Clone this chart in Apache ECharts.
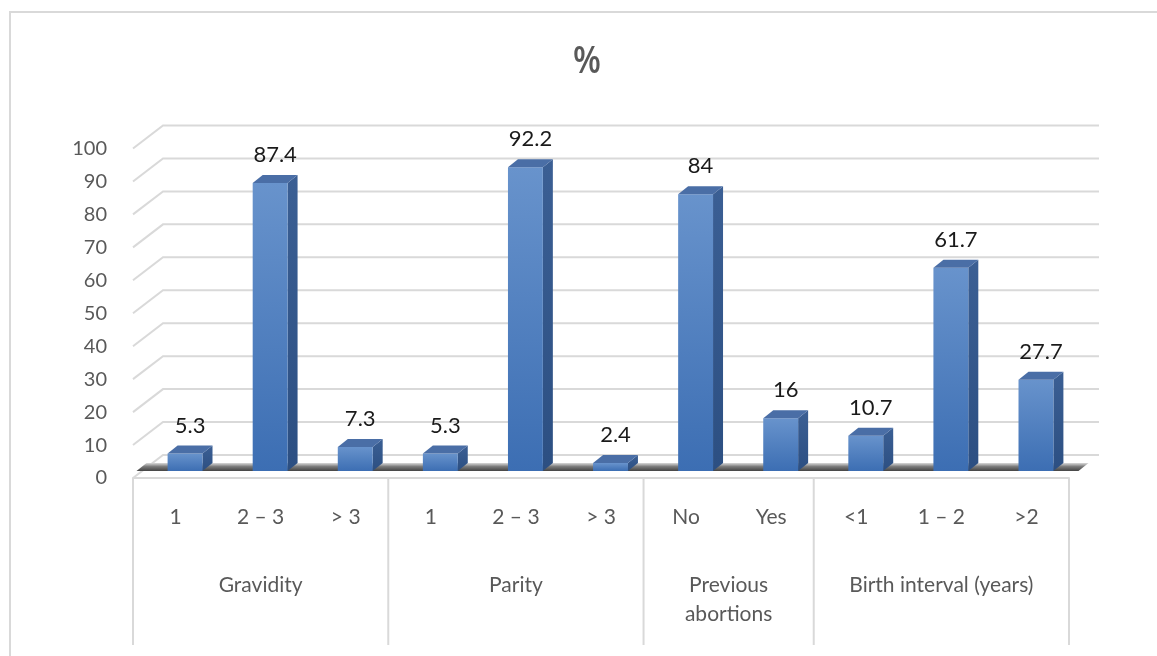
<!DOCTYPE html>
<html>
<head>
<meta charset="utf-8">
<script src="https://cdn.jsdelivr.net/npm/echarts@6/dist/echarts.min.js"></script>
<style>html,body{margin:0;padding:0;background:#fff;}#c{width:1157px;height:656px;}</style>
</head>
<body>
<div id="c"></div>
<script>
const categories = ['1', '2 – 3', '> 3', '1', '2 – 3', '> 3', 'No', 'Yes', '<1', '1 – 2', '>2'];
const values = [5.3, 87.4, 7.3, 5.3, 92.2, 2.4, 84, 16, 10.7, 61.7, 27.7];
const groupNames = ['Gravidity', 'Parity', 'Previous\nabortions', 'Birth interval (years)'];
const groupSizes = [3, 3, 2, 3];
const yTicks = [0, 10, 20, 30, 40, 50, 60, 70, 80, 90, 100];
const titleText = '%';

const FONT = 'Lato, "Open Sans", sans-serif';
const GRAY = '#595959';
const LINE = '#d9d9d9';
const FRONT_OFF = [9.5, -7];
const DEPTH = [10, -8];
const WALL = [30, -23];

const groupData = [];
let start = 0;
groupSizes.forEach((n, i) => { groupData.push([start, n, i]); start += n; });

const chart = echarts.init(document.getElementById('c'), null, {renderer: 'canvas'});
chart.setOption({
  animation: false,
  backgroundColor: '#fff',
  graphic: [
    {
      type: 'rect', shape: {x: 10, y: 12, width: 1300, height: 800},
      style: {fill: 'none', stroke: LINE, lineWidth: 2}, z: 0
    },
    {
      type: 'text', x: 587, y: 62, z: 5, scaleX: 0.85,
      style: {text: titleText, align: 'center', verticalAlign: 'middle',
        fontFamily: '"Open Sans", Lato, sans-serif', fontSize: 38, fontWeight: 600, fill: GRAY}
    }
  ],
  grid: {left: 133, right: 88, top: 148.5, height: 329.5},
  xAxis: {
    type: 'category', data: categories,
    axisLine: {show: true, lineStyle: {color: LINE, width: 2}},
    axisTick: {show: false},
    axisLabel: {margin: 29, fontSize: 21, fontFamily: FONT, color: GRAY, interval: 0},
    splitLine: {show: false}
  },
  yAxis: {
    type: 'value', min: 0, max: 100, interval: 10,
    axisLine: {show: false}, axisTick: {show: false}, splitLine: {show: false},
    axisLabel: {margin: 26, fontSize: 20, fontFamily: FONT, color: GRAY}
  },
  series: [
    {
      type: 'custom', name: 'grid3d', z: 1, silent: true,
      data: yTicks.map(v => [0, v]),
      encode: {x: 0, y: 1},
      renderItem: function (params, api) {
        const cs = params.coordSys;
        const y = api.coord([0, api.value(1)])[1];
        const x0 = cs.x, x1 = cs.x + cs.width;
        return {
          type: 'polyline',
          shape: {points: [[x0, y], [x0 + WALL[0], y + WALL[1]], [x1 + WALL[0], y + WALL[1]]]},
          style: {stroke: LINE, lineWidth: 2, fill: null}
        };
      }
    },
    {
      type: 'custom', name: 'shadow', z: 2, silent: true,
      data: [[0, 0]],
      encode: {x: 0, y: 1},
      renderItem: function (params, api) {
        const cs = params.coordSys;
        const y = api.coord([0, 0])[1] + FRONT_OFF[1];
        const xa = cs.x + FRONT_OFF[0] - 6, xb = cs.x + cs.width + FRONT_OFF[0];
        return {
          type: 'polygon',
          shape: {points: [[xa, y], [xa + DEPTH[0], y + DEPTH[1]], [xb + DEPTH[0], y + DEPTH[1]], [xb, y]]},
          style: {
            fill: new echarts.graphic.LinearGradient(0, 0, 0, 1, [
              {offset: 0, color: '#d9d9d9'},
              {offset: 0.45, color: '#7a7a7a'},
              {offset: 1, color: '#444444'}
            ])
          }
        };
      }
    },
    {
      type: 'custom', name: 'bars', z: 3,
      data: values.map((v, i) => [i, v]),
      encode: {x: 0, y: 1},
      renderItem: function (params, api) {
        const idx = api.value(0), val = api.value(1);
        const p0 = api.coord([idx, 0]);
        const p1 = api.coord([idx, val]);
        const bw = api.size([1, 0])[0] * 0.41;
        const cx = p0[0] + FRONT_OFF[0];
        const xL = cx - bw / 2, xR = cx + bw / 2;
        const yB = p0[1] + FRONT_OFF[1], yT = p1[1] + FRONT_OFF[1];
        const dx = DEPTH[0], dy = DEPTH[1];
        return {
          type: 'group',
          children: [
            {
              type: 'polygon',
              shape: {points: [[xR, yT], [xR + dx, yT + dy], [xR + dx, yB + dy], [xR, yB]]},
              style: {fill: new echarts.graphic.LinearGradient(0, 0, 0, 1, [
                {offset: 0, color: '#3b5f94'}, {offset: 1, color: '#2c4f82'}
              ])}
            },
            {
              type: 'rect',
              shape: {x: xL, y: yT, width: bw, height: yB - yT},
              style: {fill: new echarts.graphic.LinearGradient(0, 0, 0, 1, [
                {offset: 0, color: '#6893cc'}, {offset: 1, color: '#3c6eb3'}
              ])}
            },
            {
              type: 'polygon',
              shape: {points: [[xL, yT], [xL + dx, yT + dy], [xR + dx, yT + dy], [xR, yT]]},
              style: {fill: '#4a6ea6'}
            },
            {
              type: 'text',
              style: {
                text: String(val), x: cx + dx / 2, y: yT + dy - 9,
                align: 'center', verticalAlign: 'bottom',
                fontFamily: FONT, fontSize: 22, fill: '#1a1a1a'
              }
            }
          ]
        };
      }
    },
    {
      type: 'custom', name: 'groups', z: 3, silent: true,
      data: groupData,
      encode: {x: 0, y: 1},
      renderItem: function (params, api) {
        const s = api.value(0), n = api.value(1), gi = api.value(2);
        const band = api.size([1, 0])[0];
        const base = api.coord([s, 0]);
        const xs = base[0] - band / 2, xe = xs + n * band;
        const yTop = base[1];
        const children = [
          {type: 'line', shape: {x1: xs, y1: yTop, x2: xs, y2: 645}, style: {stroke: LINE, lineWidth: 2}},
          {type: 'text', style: {
            text: groupNames[gi], x: (xs + xe) / 2, y: 571, align: 'center', verticalAlign: 'top',
            fontFamily: FONT, fontSize: 21, lineHeight: 29, fill: GRAY
          }}
        ];
        if (gi === groupNames.length - 1) {
          children.push({type: 'line', shape: {x1: xe, y1: yTop, x2: xe, y2: 645}, style: {stroke: LINE, lineWidth: 2}});
        }
        return {type: 'group', children: children};
      }
    }
  ]
});
</script>
</body>
</html>
